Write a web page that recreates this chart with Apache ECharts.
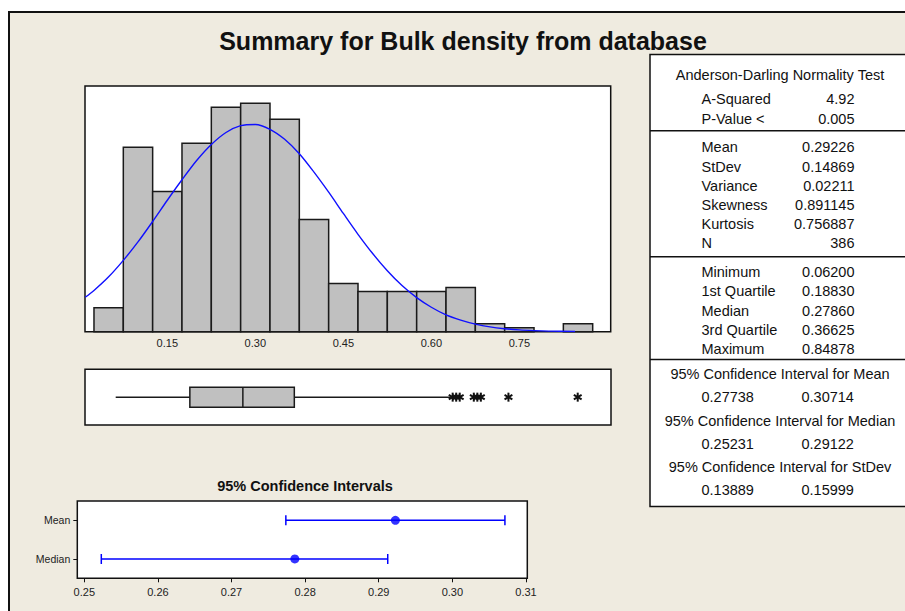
<!DOCTYPE html>
<html>
<head>
    <meta charset="utf-8"/>
    <style>
        html, body {
            margin: 0;
            padding: 0;
            background: #ffffff;
            overflow: hidden;
        }
        .wrap {
            position: relative;
            width: 905px;
            height: 611px;
        }
        .frame {
            position: absolute;
            left: 8px;
            top: 11px;
            width: 910px;
            height: 620px;
            background: #EFEBE0;
            border: 2px solid #111111;
        }
        #main {
            position: absolute;
            left: 0;
            top: 0;
            width: 905px;
            height: 611px;
        }
    </style>
</head>
<body>
<div class="wrap">
    <div class="frame"></div>
    <div id="main"></div>
</div>
<script src="https://cdn.jsdelivr.net/npm/echarts@6/dist/echarts.min.js"></script>
<script type="text/javascript">
    // histogram: bin edges (width 0.05) and counts
    var binStart = [0.025, 0.075, 0.125, 0.175, 0.225, 0.275, 0.325, 0.375, 0.425, 0.475, 0.525, 0.575, 0.625, 0.675, 0.725, 0.775, 0.825];
    var binCount = [6, 46, 35, 47, 56, 57, 53, 28, 12, 10, 10, 10, 11, 2, 1, 0, 2];
    var binWidth = 0.05;
    var histTicks = [0.15, 0.30, 0.45, 0.60, 0.75];

    // fitted normal curve (x, count)
    var curveX = [0.01, 0.025, 0.05, 0.075, 0.10, 0.125, 0.15, 0.175, 0.20, 0.225, 0.25, 0.275, 0.30, 0.325, 0.35, 0.375, 0.40, 0.425, 0.45, 0.475, 0.50, 0.525, 0.55, 0.575, 0.60, 0.625, 0.65, 0.675, 0.70, 0.725, 0.75, 0.775, 0.80, 0.845];
    var curveY = [8.6, 10.3, 13.7, 17.8, 22.4, 27.5, 32.8, 37.9, 42.7, 46.7, 49.7, 51.4, 51.7, 50.5, 48.0, 44.4, 39.8, 34.8, 29.5, 24.3, 19.5, 15.2, 11.5, 8.5, 6.1, 4.2, 2.9, 1.9, 1.2, 0.75, 0.45, 0.27, 0.15, 0.05];

    // boxplot: min, Q1, median, Q3, upper whisker end
    var boxStats = [0.062, 0.1883, 0.2786, 0.36625, 0.633];
    var outliers = [0.636, 0.642, 0.648, 0.672, 0.678, 0.684, 0.731, 0.849];

    // 95% confidence intervals
    var ciNames = ['Median', 'Mean'];
    var ciLow = [0.25231, 0.27738];
    var ciHigh = [0.29122, 0.30714];
    var ciEst = [0.2786, 0.29226];
    var ciTicks = [0.25, 0.26, 0.27, 0.28, 0.29, 0.30, 0.31];

    // summary table
    var adTitle = 'Anderson-Darling Normality Test';
    var adRows = [['A-Squared', '4.92'], ['P-Value <', '0.005']];
    var momentRows = [['Mean', '0.29226'], ['StDev', '0.14869'], ['Variance', '0.02211'], ['Skewness', '0.891145'], ['Kurtosis', '0.756887'], ['N', '386']];
    var quantRows = [['Minimum', '0.06200'], ['1st Quartile', '0.18830'], ['Median', '0.27860'], ['3rd Quartile', '0.36625'], ['Maximum', '0.84878']];
    var ciRows = [['95% Confidence Interval for Mean', '0.27738', '0.30714'], ['95% Confidence Interval for Median', '0.25231', '0.29122'], ['95% Confidence Interval for StDev', '0.13889', '0.15999']];

    var xMin = 0.0097, xMax = 0.9057;
    var FONT = '"Liberation Sans", Arial, sans-serif';

    var myChart = echarts.init(document.getElementById('main'), null, {renderer: 'svg'});

    function txt(x, y, s, align, size, weight) {
        return {
            type: 'text', x: x, y: y, silent: true,
            style: {
                text: s, fill: '#111', fontSize: size || 14.5, fontFamily: FONT, fontWeight: weight || 'normal',
                align: align || 'left', verticalAlign: 'middle',
                textAlign: align || 'left', textVerticalAlign: 'middle'
            }
        };
    }

    function hline(y) {
        return {type: 'line', silent: true, shape: {x1: 650, y1: y, x2: 920, y2: y}, style: {stroke: '#111', lineWidth: 1.5}};
    }

    // build the table graphic
    var graphics = [];
    graphics.push(txt(463, 41, 'Summary for Bulk density from database', 'center', 25, 'bold'));
    graphics.push(txt(305, 486, '95% Confidence Intervals', 'center', 14.5, 'bold'));
    graphics.push({type: 'rect', silent: true, shape: {x: 650, y: 54.5, width: 270, height: 452}, style: {fill: '#fff', stroke: '#111', lineWidth: 1.5}});
    graphics.push(hline(130.7));
    graphics.push(hline(256.7));
    graphics.push(hline(359.5));
    graphics.push(txt(780, 75, adTitle, 'center'));
    adRows.forEach(function (r, i) {
        graphics.push(txt(701.5, 99.3 + i * 20, r[0]));
        graphics.push(txt(854.5, 99.3 + i * 20, r[1], 'right'));
    });
    momentRows.forEach(function (r, i) {
        graphics.push(txt(701.5, 147.3 + i * 19.2, r[0]));
        graphics.push(txt(854.5, 147.3 + i * 19.2, r[1], 'right'));
    });
    quantRows.forEach(function (r, i) {
        graphics.push(txt(701.5, 271.7 + i * 19.4, r[0]));
        graphics.push(txt(854.5, 271.7 + i * 19.4, r[1], 'right'));
    });
    ciRows.forEach(function (r, i) {
        graphics.push(txt(780, 374 + i * 46.7, r[0], 'center'));
        graphics.push(txt(701.5, 397 + i * 46.7, r[1]));
        graphics.push(txt(801.5, 397 + i * 46.7, r[2]));
    });

    var histData = binStart.map(function (s, i) {
        return [s, s + binWidth, binCount[i]];
    });
    var curveData = curveX.map(function (x, i) {
        return [x, curveY[i]];
    });
    var ciData = ciNames.map(function (n, i) {
        return [ciLow[i], ciHigh[i], i];
    });
    var ciPoints = ciNames.map(function (n, i) {
        return [ciEst[i], i];
    });
    var outlierData = outliers.map(function (v) {
        return [v, 1];
    });

    var axisLabelStyle = {color: '#222', fontSize: 11, fontFamily: FONT};

    var option = {
        animation: false,
        backgroundColor: 'transparent',
        graphic: {elements: graphics},
        grid: [
            {left: 85, top: 86, width: 525.7, height: 245.7, show: true, backgroundColor: '#fff', borderColor: '#111', borderWidth: 1.5},
            {left: 85, top: 369.3, width: 526, height: 55.7, show: true, backgroundColor: '#fff', borderColor: '#111', borderWidth: 1.5},
            {left: 77.3, top: 501, width: 450, height: 77.3, show: true, backgroundColor: '#fff', borderColor: '#111', borderWidth: 1.5}
        ],
        xAxis: [
            {
                gridIndex: 0, type: 'value', min: xMin, max: xMax,
                axisLine: {show: false}, axisTick: {show: false}, splitLine: {show: false},
                axisLabel: Object.assign({
                    margin: 6, customValues: histTicks,
                    formatter: function (v) { return v.toFixed(2); }
                }, axisLabelStyle)
            },
            {
                gridIndex: 1, type: 'value', min: xMin, max: xMax,
                axisLine: {show: false}, axisTick: {show: false}, splitLine: {show: false}, axisLabel: {show: false}
            },
            {
                gridIndex: 2, type: 'value', min: 0.24905, max: 0.31018,
                axisLine: {show: false}, splitLine: {show: false},
                axisTick: {show: true, length: 4, customValues: ciTicks, lineStyle: {color: '#111'}},
                axisLabel: Object.assign({
                    margin: 8, customValues: ciTicks,
                    formatter: function (v) { return v.toFixed(2); }
                }, axisLabelStyle)
            }
        ],
        yAxis: [
            {gridIndex: 0, type: 'value', min: 0, max: 61.3, show: false},
            {gridIndex: 1, type: 'value', min: 0, max: 2, show: false},
            {
                gridIndex: 2, type: 'category', data: ciNames, boundaryGap: true,
                axisLine: {show: false}, splitLine: {show: false},
                axisTick: {show: true, length: 4, alignWithLabel: true, lineStyle: {color: '#111'}},
                axisLabel: Object.assign({margin: 7}, axisLabelStyle, {fontSize: 10.5})
            }
        ],
        series: [
            {
                type: 'custom', xAxisIndex: 0, yAxisIndex: 0, data: histData,
                encode: {x: [0, 1], y: 2},
                renderItem: function (params, api) {
                    if (api.value(2) <= 0) return;
                    var p0 = api.coord([api.value(0), api.value(2)]);
                    var p1 = api.coord([api.value(1), 0]);
                    return {
                        type: 'rect',
                        shape: {x: p0[0], y: p0[1], width: p1[0] - p0[0], height: p1[1] - p0[1]},
                        style: {fill: '#C0C0C0', stroke: '#1a1a1a', lineWidth: 1.5}
                    };
                }
            },
            {
                type: 'line', xAxisIndex: 0, yAxisIndex: 0, data: curveData,
                showSymbol: false, smooth: 0.3, z: 5,
                lineStyle: {color: '#1010FF', width: 1.4}
            },
            {
                type: 'custom', xAxisIndex: 1, yAxisIndex: 1, data: [boxStats],
                encode: {x: [0, 1, 2, 3, 4]},
                renderItem: function (params, api) {
                    var c = function (i) { return api.coord([api.value(i), 1]); };
                    var pMin = c(0), pQ1 = c(1), pMed = c(2), pQ3 = c(3), pHi = c(4);
                    var yc = pMin[1], h = 10;
                    var st = {stroke: '#1a1a1a', lineWidth: 1.5};
                    return {
                        type: 'group', children: [
                            {type: 'line', shape: {x1: pMin[0], y1: yc, x2: pQ1[0], y2: yc}, style: st},
                            {type: 'line', shape: {x1: pQ3[0], y1: yc, x2: pHi[0], y2: yc}, style: st},
                            {type: 'rect', shape: {x: pQ1[0], y: yc - h, width: pQ3[0] - pQ1[0], height: 2 * h},
                                style: {fill: '#C0C0C0', stroke: '#1a1a1a', lineWidth: 1.5}},
                            {type: 'line', shape: {x1: pMed[0], y1: yc - h, x2: pMed[0], y2: yc + h}, style: st}
                        ]
                    };
                }
            },
            {
                // outliers drawn as bold asterisks
                type: 'custom', xAxisIndex: 1, yAxisIndex: 1, data: outlierData,
                encode: {x: 0, y: 1},
                renderItem: function (params, api) {
                    var p = api.coord([api.value(0), api.value(1)]);
                    var r = 4.5, st = {stroke: '#111', lineWidth: 2};
                    var arms = [90, 30, 150].map(function (deg) {
                        var a = deg * Math.PI / 180, dx = r * Math.cos(a), dy = r * Math.sin(a);
                        return {type: 'line', shape: {x1: p[0] - dx, y1: p[1] - dy, x2: p[0] + dx, y2: p[1] + dy}, style: st};
                    });
                    return {type: 'group', children: arms};
                }
            },
            {
                type: 'custom', xAxisIndex: 2, yAxisIndex: 2, data: ciData,
                encode: {x: [0, 1], y: 2},
                renderItem: function (params, api) {
                    var a = api.coord([api.value(0), api.value(2)]);
                    var b = api.coord([api.value(1), api.value(2)]);
                    var st = {stroke: '#0000FF', lineWidth: 1.5};
                    return {
                        type: 'group', children: [
                            {type: 'line', shape: {x1: a[0], y1: a[1], x2: b[0], y2: b[1]}, style: st},
                            {type: 'line', shape: {x1: a[0], y1: a[1] - 5, x2: a[0], y2: a[1] + 5}, style: st},
                            {type: 'line', shape: {x1: b[0], y1: b[1] - 5, x2: b[0], y2: b[1] + 5}, style: st}
                        ]
                    };
                }
            },
            {
                type: 'scatter', xAxisIndex: 2, yAxisIndex: 2, data: ciPoints,
                symbol: 'circle', symbolSize: 9, z: 5, itemStyle: {color: '#0000FF'}
            }
        ]
    };

    myChart.setOption(option);
</script>
</body>
</html>
